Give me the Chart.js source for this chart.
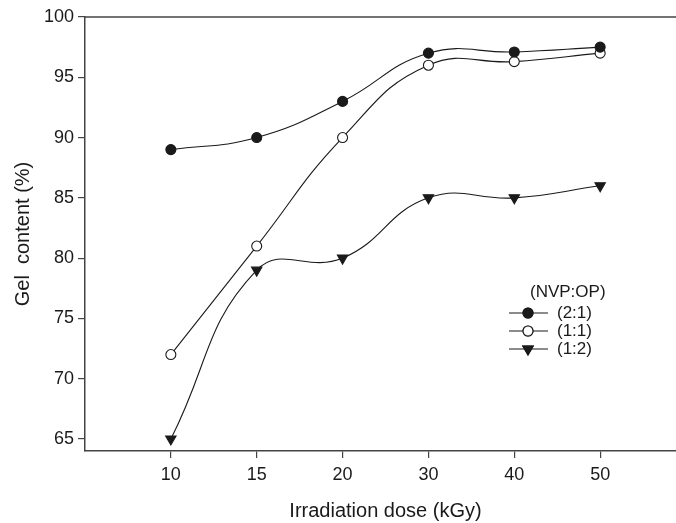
<!DOCTYPE html>
<html lang="en">
<head>
    <meta charset="UTF-8">
    <title>Gel content vs irradiation dose</title>
    <script src="https://cdn.jsdelivr.net/npm/chart.js"></script>
    <style>
        html, body { margin: 0; padding: 0; background: #fff; overflow: hidden; }
        #wrap { position: relative; width: 700px; height: 523px; }
    </style>
</head>
<body>
    <div id="wrap"><canvas id="gelChart"></canvas></div>

    <script>
        // values
        const doses = ['10', '15', '20', '30', '40', '50'];
        const gel21 = [89, 90, 93, 97, 97.1, 97.5];
        const gel11 = [72, 81, 90, 96, 96.3, 97];
        const gel12 = [65, 79, 80, 85, 85, 86];
        const yTicks = [65, 70, 75, 80, 85, 90, 95, 100];
        const legendTitle = '(NVP:OP)';

        const ink = '#1a1a1a';
        const axisColor = '#444';
        const fontFamily = '"Liberation Sans", Arial, sans-serif';

        function toPoints(values) {
            return values.map((v, i) => ({ x: i, y: v }));
        }

        function series(label, values, style, fill, rotation, radius) {
            return {
                label: label,
                data: toPoints(values),
                borderColor: ink,
                borderWidth: 1.1,
                tension: 0.45,
                pointStyle: style,
                pointRotation: rotation,
                pointRadius: radius,
                pointBackgroundColor: fill,
                pointBorderColor: ink,
                pointBorderWidth: 1.1
            };
        }

        // hand drawn legend + top frame line
        const extras = {
            id: 'extras',
            afterDraw(chart) {
                const ctx = chart.ctx;
                const area = chart.chartArea;
                ctx.save();
                ctx.strokeStyle = axisColor;
                ctx.lineWidth = 1.5;
                ctx.beginPath();
                ctx.moveTo(area.left, area.top);
                ctx.lineTo(area.right, area.top);
                ctx.stroke();

                ctx.fillStyle = ink;
                ctx.font = '17px ' + fontFamily;
                ctx.textBaseline = 'middle';
                ctx.textAlign = 'left';
                ctx.fillText(legendTitle, 530, 292);

                const rows = [313, 331, 349];
                chart.data.datasets.forEach((ds, i) => {
                    const y = rows[i];
                    ctx.strokeStyle = ink;
                    ctx.lineWidth = 1.1;
                    ctx.beginPath();
                    ctx.moveTo(509, y);
                    ctx.lineTo(548, y);
                    ctx.stroke();
                    Chart.helpers.drawPoint(ctx, {
                        pointStyle: ds.pointStyle,
                        rotation: ds.pointRotation,
                        radius: ds.pointRadius,
                        borderWidth: 1.1
                    }, 528, y);
                    ctx.fillStyle = ds.pointBackgroundColor;
                    ctx.strokeStyle = ink;
                    ctx.fill();
                    ctx.stroke();
                    ctx.fillStyle = ink;
                    ctx.fillText(ds.label, 557, y);
                });
                ctx.restore();
            }
        };

        new Chart(document.getElementById('gelChart'), {
            type: 'line',
            data: {
                datasets: [
                    series('(2:1)', gel21, 'circle', ink, 0, 5),
                    series('(1:1)', gel11, 'circle', '#fff', 0, 5),
                    series('(1:2)', gel12, 'triangle', ink, 180, 6)
                ]
            },
            options: {
                responsive: true,
                maintainAspectRatio: false,
                animation: false,
                layout: { padding: { left: 11, top: 17, right: 14, bottom: 0 } },
                plugins: { legend: { display: false }, tooltip: { enabled: false } },
                scales: {
                    x: {
                        type: 'linear',
                        min: -1,
                        max: 6,
                        afterFit(s) { s.height = 72; },
                        afterBuildTicks(s) { s.ticks = doses.map((d, i) => ({ value: i })); },
                        ticks: {
                            color: ink,
                            font: { size: 18, family: fontFamily },
                            padding: 6,
                            maxRotation: 0,
                            callback: (v) => doses[v]
                        },
                        grid: { drawOnChartArea: false, tickLength: 7, color: axisColor, lineWidth: 1.2 },
                        border: { color: axisColor, width: 1.5 },
                        title: {
                            display: true,
                            text: 'Irradiation dose (kGy)',
                            color: ink,
                            font: { size: 20, family: fontFamily },
                            padding: 0
                        }
                    },
                    y: {
                        min: 64,
                        max: 100,
                        afterFit(s) { s.width = 74; },
                        afterBuildTicks(s) { s.ticks = yTicks.map(v => ({ value: v })); },
                        ticks: {
                            color: ink,
                            font: { size: 18, family: fontFamily },
                            padding: 4
                        },
                        grid: { drawOnChartArea: false, tickLength: 7, color: axisColor, lineWidth: 1.2 },
                        border: { color: axisColor, width: 1.5 },
                        title: {
                            display: true,
                            text: 'Gel  content (%)',
                            color: ink,
                            font: { size: 20, family: fontFamily },
                            padding: 0
                        }
                    }
                }
            },
            plugins: [extras]
        });
    </script>
</body>
</html>
